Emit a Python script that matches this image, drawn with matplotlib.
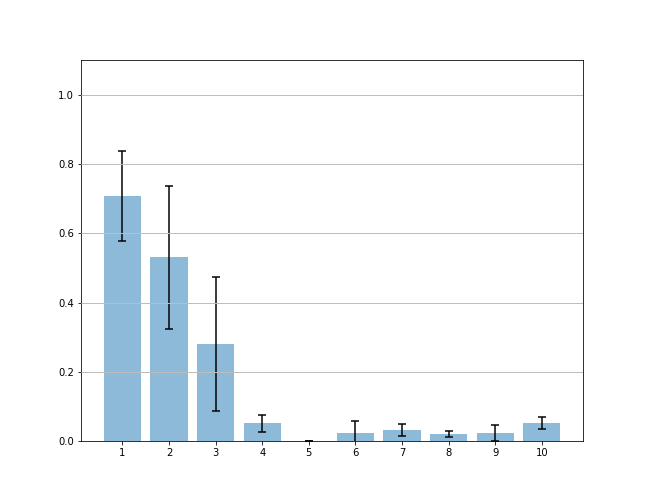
import matplotlib
matplotlib.use("Agg")
import matplotlib.pyplot as plt

categories = [1, 2, 3, 4, 5, 6, 7, 8, 9, 10]
values = [0.709, 0.531, 0.280, 0.051, 0.0, 0.023, 0.032, 0.020, 0.023, 0.052]
errors = [0.130, 0.207, 0.193, 0.024, 0.0, 0.034, 0.017, 0.0085, 0.023, 0.0175]

fig, ax = plt.subplots(figsize=(9, 7), dpi=72)
fig.subplots_adjust(left=0.125, right=0.9, top=0.88, bottom=0.125)
ax.bar(categories, values, yerr=errors, color="C0", alpha=0.5,
       error_kw=dict(ecolor="black", capsize=4, elinewidth=1.5, capthick=1.5))
ax.set_ylim(0, 1.1)
ax.set_xticks(categories)
ax.set_yticks([0.0, 0.2, 0.4, 0.6, 0.8, 1.0])
ax.yaxis.grid(True, color="#bdbdbd", linewidth=1)
ax.set_axisbelow(False)
fig.savefig("out.png", dpi=72)
